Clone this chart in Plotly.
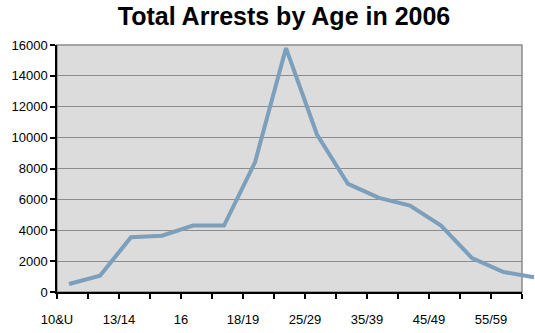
import plotly.graph_objects as go

# age groups and arrest counts (2006)
ages = ["10&U", "11/12", "13/14", "15", "16", "17", "18/19", "20/24",
        "25/29", "30/34", "35/39", "40/44", "45/49", "50/54", "55/59", "60&O"]
arrests = [520, 1050, 3550, 3650, 4300, 4300, 8400, 15800,
           10200, 7000, 6100, 5600, 4300, 2200, 1300, 950]

y_ticks = list(range(0, 16001, 2000))

# tick marks sit a bit left of each point in the original chart
off = -0.387
x_pos = list(range(len(ages)))
tick_vals = [i + off for i in x_pos]
tick_text = [a if i % 2 == 0 else "" for i, a in enumerate(ages)]

W, H = 535, 333
L, T, B = 57, 45, 41
full_w = W - L          # line runs on to the page edge
box_w = 465             # grey plot box stops short of it
box_frac = box_w / full_w
n_span = len(ages) - 1

fig = go.Figure()
# empty trace so the boxed axes get drawn
fig.add_trace(go.Scatter(x=[], y=[], mode="lines", hoverinfo="skip"))
fig.add_trace(go.Scatter(
    x=x_pos, y=arrests, mode="lines",
    line=dict(color="#7c9fbb", width=4),
    xaxis="x2", yaxis="y2", hoverinfo="skip",
))

fig.update_layout(
    width=W, height=H,
    margin=dict(l=L, r=0, t=T, b=B),
    paper_bgcolor="white",
    plot_bgcolor="rgba(0,0,0,0)",
    showlegend=False,
    font=dict(family="Liberation Sans", size=13, color="black"),
    title=dict(
        text="<b>Total Arrests by Age in 2006</b>",
        font=dict(family="Liberation Sans", size=25, color="black"),
        x=(284 - L) / full_w, xref="paper", xanchor="center",
        y=1 - 16 / H, yref="container", yanchor="middle",
    ),
    shapes=[dict(type="rect", xref="x domain", yref="y domain", x0=0, x1=1, y0=0, y1=1,
                 fillcolor="#dcdcdc", line=dict(color="#8a8a8a", width=1.5), layer="below")],
    xaxis=dict(
        domain=[0, box_frac],
        range=[off, n_span + off],
        tickmode="array", tickvals=tick_vals, ticktext=tick_text,
        ticks="outside", ticklen=5, tickcolor="black", tickwidth=1.5,
        showgrid=False, zeroline=False, automargin=False,
        showline=True, linecolor="black", linewidth=1.5,
        ticklabelstandoff=10,
    ),
    yaxis=dict(
        range=[0, 16000],
        tickmode="array", tickvals=y_ticks, tickformat="d",
        ticks="outside", ticklen=5, tickcolor="black", tickwidth=1.5,
        showgrid=True, gridcolor="#8c8c8c", gridwidth=1,
        zeroline=False, automargin=False,
        showline=True, linecolor="black", linewidth=1.5,
    ),
    xaxis2=dict(
        domain=[0, 1], anchor="y2",
        range=[off, off + n_span / box_frac],
        visible=False, showgrid=False, zeroline=False,
    ),
    yaxis2=dict(
        domain=[0, 1], anchor="x2",
        range=[0, 16000],
        visible=False, showgrid=False, zeroline=False,
    ),
)

fig.write_html("out.html", config={"displayModeBar": False},
               post_script="document.body.style.margin='0';")
